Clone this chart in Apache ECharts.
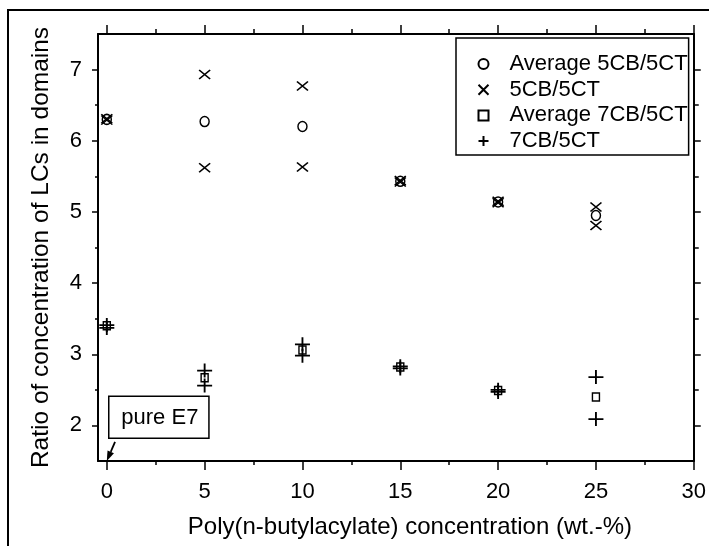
<!DOCTYPE html>
<html><head><meta charset="utf-8">
<script src="https://cdn.jsdelivr.net/npm/echarts@6/dist/echarts.min.js"></script>
<style>html,body{margin:0;padding:0;background:#fff}#c{width:709px;height:546px}</style>
</head><body><div id="c"></div>
<script>
// ---- data ----
const xValues = [0, 5, 10, 15, 20, 25];
const avg5CB = [6.30, 6.27, 6.20, 5.43, 5.14, 4.95];
const cb5High = [6.31, 6.93, 6.77, 5.44, 5.15, 5.07];
const cb5Low  = [6.29, 5.62, 5.63, 5.42, 5.13, 4.81];
const avg7CB = [3.40, 2.67, 3.06, 2.82, 2.49, 2.40];
const cb7High = [3.41, 2.77, 3.14, 2.83, 2.50, 2.68];
const cb7Low  = [3.37, 2.56, 2.98, 2.80, 2.47, 2.09];
const xMajorTicks = [0, 5, 10, 15, 20, 25, 30];
const xMinorTicks = [2.5, 7.5, 12.5, 17.5, 22.5, 27.5];
const yMajorTicks = [2, 3, 4, 5, 6, 7];
const yMinorTicks = [2.5, 3.5, 4.5, 5.5, 6.5];
const seriesNames = ['Average 5CB/5CT', '5CB/5CT', 'Average 7CB/5CT', '7CB/5CT'];
const xTitle = 'Poly(n-butylacylate) concentration (wt.-%)';
const yTitle = 'Ratio of concentration of LCs in domains';
const noteText = 'pure E7';
const noteBox = [[0.1, 2.41], [5.22, 1.82]];
const noteArrow = [[0.42, 1.77], [0, 1.5]];

const FONT = "'Liberation Sans', Arial, Helvetica, sans-serif";
const pairs = (xs, ys) => xs.map((x, i) => [x, ys[i]]);
const both = (xs, a, b) => pairs(xs, a).concat(pairs(xs, b));

const X_PATH = 'path://M0,0L10,10M10,0L0,10';
const PLUS_PATH = 'path://M5,0L5,10M0,5L10,5';
const SQ_PATH = 'path://M0,0L10,0L10,10L0,10Z';
const markStyle = {color: 'none', borderColor: '#000', borderWidth: 1.5, opacity: 1};
const heavyStyle = {color: 'none', borderColor: '#000', borderWidth: 1.8, opacity: 1};

const chart = echarts.init(document.getElementById('c'), null, {renderer: 'canvas'});

function xAx(pos, ticks, len, showLine, showLabel) {
  return {
    type: 'value', position: pos, min: -0.45, max: 30,
    axisLine: {show: showLine, onZero: false, lineStyle: {color: '#000', width: 2}},
    axisTick: {show: true, length: len, customValues: ticks, lineStyle: {color: '#000', width: 1.5}},
    axisLabel: {show: showLabel, customValues: ticks, margin: 20, fontSize: 22, color: '#000', fontFamily: FONT},
    splitLine: {show: false}
  };
}
function yAx(pos, ticks, len, showLine, showLabel) {
  return {
    type: 'value', position: pos, min: 1.5, max: 7.5,
    axisLine: {show: showLine, onZero: false, lineStyle: {color: '#000', width: 2}},
    axisTick: {show: true, length: len, customValues: ticks, lineStyle: {color: '#000', width: 1.5}},
    axisLabel: {show: showLabel, customValues: ticks, margin: 16, fontSize: 22, color: '#000', fontFamily: FONT},
    splitLine: {show: false}
  };
}

const xMain = xAx('bottom', xMajorTicks, 9, true, true);
Object.assign(xMain, {
  name: xTitle, nameLocation: 'middle', nameGap: 54,
  nameTextStyle: {fontSize: 24, color: '#000', fontFamily: FONT, padding: [0, 0, 0, 28]}
});
const yMain = yAx('left', yMajorTicks, 6, true, true);
Object.assign(yMain, {
  name: yTitle, nameLocation: 'middle', nameGap: 44,
  nameTextStyle: {fontSize: 24.5, color: '#000', fontFamily: FONT}
});

chart.setOption({
  animation: false,
  backgroundColor: '#fff',
  grid: {left: 98, top: 34, right: 15, bottom: 85, containLabel: false},
  xAxis: [
    xMain,
    xAx('bottom', xMinorTicks, 4, false, false),
    xAx('top', xMajorTicks, 9, true, false),
    xAx('top', xMinorTicks, 5, false, false)
  ],
  yAxis: [
    yMain,
    yAx('left', yMinorTicks, 3, false, false),
    yAx('right', yMajorTicks, 7, true, false),
    yAx('right', yMinorTicks, 5, false, false)
  ],
  legend: {
    orient: 'vertical', left: 456, top: 38,
    padding: [15, 1, 3, 20], itemGap: 3.7,
    itemWidth: 42, itemHeight: 10,
    borderColor: '#000', borderWidth: 1.5, backgroundColor: '#fff',
    textStyle: {fontSize: 22, color: '#000', fontFamily: FONT, lineHeight: 22},
    data: seriesNames
  },
  series: [
    {name: seriesNames[0], type: 'scatter', symbol: 'circle', symbolSize: [9, 10],
     itemStyle: markStyle, data: pairs(xValues, avg5CB), z: 3},
    {name: seriesNames[1], type: 'scatter', symbol: X_PATH, symbolSize: [11, 9],
     itemStyle: markStyle, data: both(xValues, cb5High, cb5Low), z: 4},
    {name: seriesNames[2], type: 'scatter', symbol: SQ_PATH, symbolSize: [7, 8], symbolKeepAspect: false,
     itemStyle: markStyle, data: pairs(xValues, avg7CB), z: 3},
    {name: seriesNames[3], type: 'scatter', symbol: PLUS_PATH, symbolSize: [15, 14],
     itemStyle: heavyStyle, data: both(xValues, cb7High, cb7Low), z: 4}
  ]
});

const p = v => chart.convertToPixel({xAxisIndex: 0, yAxisIndex: 0}, v);
const b0 = p(noteBox[0]), b1 = p(noteBox[1]);
const a0 = p(noteArrow[0]), a1 = p(noteArrow[1]);
const dx = a1[0] - a0[0], dy = a1[1] - a0[1];
const L = Math.hypot(dx, dy), ux = dx / L, uy = dy / L;
const hl = 10, hw = 3.5;
const base = [a1[0] - ux * hl, a1[1] - uy * hl];
chart.setOption({
  graphic: [
    {type: 'rect', shape: {x: 8, y: 10, width: 720, height: 560},
     style: {fill: 'none', stroke: '#000', lineWidth: 2}, silent: true},
    {type: 'rect', shape: {x: b0[0], y: b0[1], width: b1[0] - b0[0], height: b1[1] - b0[1]},
     style: {fill: '#fff', stroke: '#000', lineWidth: 1.5}, z: 10},
    {type: 'text', x: (b0[0] + b1[0]) / 2 + 1, y: (b0[1] + b1[1]) / 2 + 1,
     style: {text: noteText, fontSize: 22, fontFamily: FONT, fill: '#000', align: 'center', verticalAlign: 'middle'}, z: 11},
    {type: 'line', shape: {x1: a0[0], y1: a0[1], x2: base[0], y2: base[1]},
     style: {stroke: '#000', lineWidth: 1.8}, z: 10},
    {type: 'polygon', shape: {points: [
      a1, [base[0] - uy * hw, base[1] + ux * hw], [base[0] + uy * hw, base[1] - ux * hw]]},
     style: {fill: '#000'}, z: 10}
  ]
});
</script>
</body></html>
